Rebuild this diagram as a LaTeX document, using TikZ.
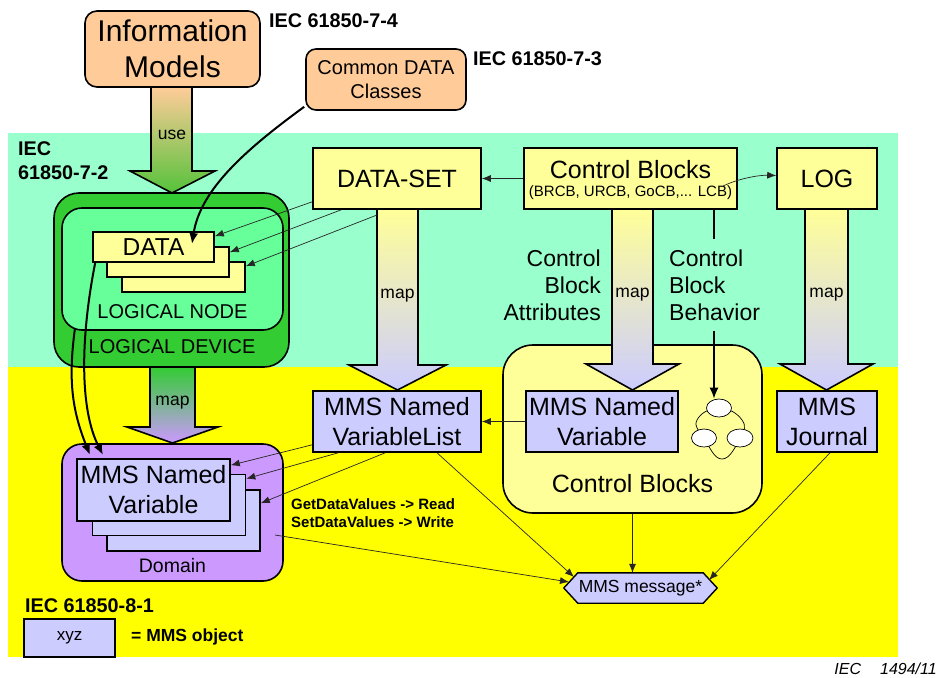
\documentclass[tikz,border=0pt]{standalone}
\usepackage{fontspec}
\setmainfont{Liberation Sans}
\usetikzlibrary{arrows.meta,shapes.geometric}
\definecolor{cyanbg}{HTML}{99FFCC}
\definecolor{yelbg}{HTML}{FFFF00}
\definecolor{orng}{HTML}{FFCC99}
\definecolor{ldgreen}{HTML}{33CC33}
\definecolor{lngreen}{HTML}{66FF99}
\definecolor{paleyel}{HTML}{FFFF99}
\definecolor{lav}{HTML}{CCCCFF}
\definecolor{purp}{HTML}{CC99FF}
\definecolor{usegreen}{HTML}{55C23A}
\newcommand{\fz}[2]{\fontsize{#1}{#2}\selectfont}
\begin{document}
\begin{tikzpicture}[x=1pt,y=-1pt,
  box/.style={draw=black, line width=1.6pt, inner sep=0pt, align=center},
  lbl/.style={inner sep=0pt, align=center},
  iec/.style={inner sep=0pt, font=\bfseries\fz{19.8}{24}, align=left},
  thinarr/.style={draw=black!85, line width=0.7pt, -{Latex[length=9pt,width=7pt]}},
  thickarr/.style={draw=black, line width=2pt, -{Latex[length=11pt,width=9pt]}},
  bigarrow/.style={draw=black, line width=1.6pt},
  maplbl/.style={inner sep=0pt, font=\fz{17.5}{20}}
]
\useasboundingbox (0,0) rectangle (939,677);
\fill[white] (0,0) rectangle (939,677);
\fill[cyanbg] (8,133) rectangle (898,367);
\fill[yelbg] (8,367) rectangle (898,657);

% Control Blocks rounded box (behind arrows)
\node[box, fill=paleyel, rounded corners=30pt, minimum width=259pt, minimum height=168pt] (cbr) at (632.5,429) {};
\node[lbl, font=\fz{25}{30}] (cbrt) at (632.5,484) {Control Blocks};

% big arrows
\shadedraw[bigarrow, top color=orng, bottom color=usegreen] (151,87) -- (192,87) -- (192,171) -- (215,171) -- (172,193) -- (130,171) -- (151,171) -- cycle;
\shadedraw[bigarrow, top color=ldgreen, bottom color=purp] (150,367) -- (195,367) -- (195,427) -- (218,427) -- (172.5,443) -- (127,427) -- (150,427) -- cycle;
\shadedraw[bigarrow, top color=paleyel, bottom color=lav] (377,209) -- (418,209) -- (418,365) -- (446,365) -- (397.5,390) -- (349,365) -- (377,365) -- cycle;
\shadedraw[bigarrow, top color=paleyel, bottom color=lav] (612,209) -- (653,209) -- (653,364) -- (679,364) -- (632.5,390) -- (586,364) -- (612,364) -- cycle;
\shadedraw[bigarrow, top color=paleyel, bottom color=lav] (805,209) -- (848,209) -- (848,364) -- (873,364) -- (826.5,390) -- (780,364) -- (805,364) -- cycle;
\node[maplbl] (usel) at (172,135) {use};
\node[maplbl] (mapld) at (172.5,403) {map};
\node[maplbl] (mapds) at (397.5,296) {map};
\node[maplbl] (mapcb) at (632.5,295) {map};
\node[maplbl] (maplog) at (826.5,295) {map};

% top boxes
\node[box, fill=orng, rounded corners=12pt, minimum width=175pt, minimum height=76pt, font=\fz{30}{36}] (im) at (172.5,49) {Information\\Models};
\node[box, fill=orng, rounded corners=10pt, minimum width=160pt, minimum height=61pt, font=\fz{20}{24}] (cdc) at (386,79.5) {Common DATA\\Classes};
\node[iec, anchor=west] (iec74) at (269,21) {IEC 61850-7-4};
\node[iec, anchor=west] (iec73) at (473,59) {IEC 61850-7-3};
\node[iec, anchor=west] (iec72) at (18,161) {IEC\\61850-7-2};
\node[iec, anchor=west] (iec81) at (25,606) {IEC 61850-8-1};

% logical device / node
\node[box, fill=ldgreen, rounded corners=25pt, minimum width=235pt, minimum height=174pt] (ld) at (171.5,280) {};
\node[box, fill=lngreen, rounded corners=20pt, minimum width=221pt, minimum height=122pt] (ln) at (172.5,269) {};
\node[lbl, font=\fz{20}{24}] (lnt) at (172.5,312) {LOGICAL NODE};
\node[lbl, font=\fz{20}{24}] (ldt) at (172,347) {LOGICAL DEVICE};
\node[box, fill=paleyel, minimum width=123pt, minimum height=30pt] (d3) at (183.5,277) {};
\node[box, fill=paleyel, minimum width=122pt, minimum height=30pt] (d2) at (168,262) {};
\node[box, fill=paleyel, minimum width=121pt, minimum height=30pt, font=\fz{24.5}{28}] (d1) at (153.5,247) {DATA};

% second row boxes
\node[box, fill=paleyel, minimum width=168pt, minimum height=61pt, font=\fz{25}{30}] (ds) at (397,178.5) {DATA-SET};
\node[box, fill=paleyel, minimum width=213pt, minimum height=61pt] (cb) at (630.5,178.5) {};
\node[lbl, font=\fz{25}{30}] (cbt) at (630.5,170) {Control Blocks};
\node[lbl, font=\fz{15}{18}] (cbs) at (630.5,193) {(BRCB, URCB, GoCB,... LCB)};
\node[box, fill=paleyel, minimum width=100pt, minimum height=61pt, font=\fz{25}{30}] (log) at (827,178.5) {LOG};

\node[lbl, font=\fz{23}{27}, align=right, anchor=east] (cba) at (601,285) {Control\\Block\\Attributes};
\node[lbl, font=\fz{23}{27}, align=left, anchor=west] (cbb) at (669,285) {Control\\Block\\Behavior};

% MMS objects
\node[box, fill=lav, minimum width=168pt, minimum height=61pt, font=\fz{25}{30}] (nvl) at (397,421.5) {MMS Named\\VariableList};
\node[box, fill=lav, minimum width=152pt, minimum height=61pt, font=\fz{25}{30}] (mnv) at (602,421.5) {MMS Named\\Variable};
\node[box, fill=lav, minimum width=100pt, minimum height=61pt, font=\fz{25}{30}] (mj) at (827,421.5) {MMS\\Journal};

% behaviour loop
\draw[line width=0.7pt] plot[smooth cycle, tension=0.8] coordinates {(719,408) (742,420) (740,438) (722,459) (704,438) (697,420)};
\node[ellipse, draw, fill=white, line width=0.7pt, minimum width=25pt, minimum height=18pt, inner sep=0pt] (e1) at (719,408) {};
\node[ellipse, draw, fill=white, line width=0.7pt, minimum width=25pt, minimum height=18pt, inner sep=0pt] (e2) at (704,438) {};
\node[ellipse, draw, fill=white, line width=0.7pt, minimum width=26pt, minimum height=18pt, inner sep=0pt] (e3) at (740,438) {};

% domain
\node[box, fill=purp, rounded corners=20pt, minimum width=221pt, minimum height=137pt] (dom) at (172.5,512.5) {};
\node[lbl, font=\fz{19.5}{23}] (domt) at (172.5,566) {Domain};
\node[box, fill=lav, minimum width=153pt, minimum height=61pt] (v3) at (183.5,520.5) {};
\node[box, fill=lav, minimum width=153pt, minimum height=61pt] (v2) at (169,505) {};
\node[box, fill=lav, minimum width=153pt, minimum height=62pt, font=\fz{25}{30}] (v1) at (153.5,490) {MMS Named\\Variable};

\node[lbl, font=\bfseries\fz{15}{18}, align=left, anchor=west] (gs) at (291,513) {GetDataValues -> Read\\SetDataValues -> Write};

% MMS message hexagon
\node[inner sep=0pt, minimum width=153pt, minimum height=30pt] (msg) at (640.5,588) {};
\draw[line width=1.4pt, fill=lav] (msg.west) -- ([xshift=14pt]msg.north west) -- ([xshift=-14pt]msg.north east) -- (msg.east) -- ([xshift=-14pt]msg.south east) -- ([xshift=14pt]msg.south west) -- cycle;
\node[lbl, font=\fz{17.5}{20}] (msgt) at (msg.center) {MMS message*};

% legend
\node[box, fill=lav, minimum width=91pt, minimum height=38pt, font=\fz{17}{20}] (xyz) at (69.5,638) {xyz};
\node[lbl, font=\bfseries\fz{17.5}{20}, anchor=west] (mmsobj) at (131,637) {= MMS object};
\node[lbl, font=\itshape\fz{16}{19}, anchor=east] (fig) at (937,669) {IEC\hspace{19pt}1494/11};

% coordinates for free ends
\coordinate (cbl) at (723,186);
\coordinate (dsm3) at (377,215);
\coordinate (dtip) at (192,244);
\coordinate (lnb) at (75,328);
\coordinate (va) at (90,455);
\coordinate (vb) at (103,455);
\coordinate (domr) at (275,535);
\coordinate (msgl1) at (574,577);
\coordinate (msgl2) at (569,582);
\coordinate (msgr) at (709,580);

% thin connectors
\draw[thinarr] (cb.west) -- (ds.east);
\draw[thinarr] (cbl) .. controls (740,178) and (760,175) .. ([yshift=3pt]log.west);
\draw[thinarr] ([yshift=8pt]ds.south west) -- ([yshift=-5pt]d1.north east);
\draw[thinarr] ([xshift=29pt]ds.south west) -- ([yshift=-6pt]d2.north east);
\draw[thinarr] (dsm3) -- ([yshift=-5pt]d3.north east);
\draw[thinarr] ([yshift=8pt]nvl.south west) -- ([yshift=-7pt]v1.north east);
\draw[thinarr] ([xshift=26pt]nvl.south west) -- ([yshift=-5pt]v2.north east);
\draw[thinarr] ([xshift=73pt]nvl.south west) -- ([yshift=-14pt]v3.north east);
\draw[thinarr] (mnv.west) -- (nvl.east);
\draw[thinarr] (cbr.south) -- (cbr.south |- msg.north);
\draw[thinarr] ([xshift=3pt]mj.south) -- (msgr);
\draw[thinarr] ([xshift=40pt]nvl.south) -- (msgl1);
\draw[thinarr] (domr) -- (msgl2);

% behaviour line
\draw[line width=1.5pt] ([xshift=83.5pt]cb.south) -- ++(0,29);
\draw[line width=1.5pt, -{Latex[length=11pt,width=9pt]}] ([xshift=-5pt,yshift=68pt]e1.north) -- ([xshift=-5pt]e1.north);

% thick curved connectors
\draw[thickarr] ([xshift=-1pt,yshift=4pt]cdc.south west) .. controls (245,150) and (200,190) .. (dtip);
\draw[thickarr] ([xshift=3pt]d1.south west) .. controls (80,340) and (80,410) .. (vb);
\draw[thickarr] (lnb) .. controls (68,380) and (72,410) .. (va);
\end{tikzpicture}
\end{document}
